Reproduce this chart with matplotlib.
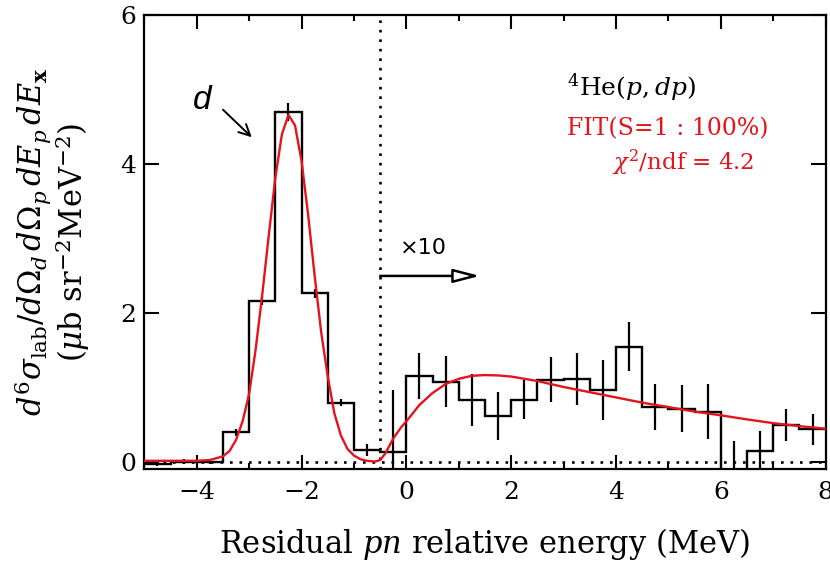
import matplotlib
matplotlib.use("Agg")
import matplotlib.pyplot as plt

plt.rcParams['font.family'] = 'DejaVu Serif'
plt.rcParams['mathtext.fontset'] = 'dejavuserif'

RED = '#e3141c'

# histogram bins (MeV), values and errors
bin_edges = [-5.0, -4.5, -4.0, -3.5, -3.0, -2.5, -2.0, -1.5, -1.0, -0.5, 0.0,
             0.5, 1.0, 1.5, 2.0, 2.5, 3.0, 3.5, 4.0, 4.5, 5.0, 5.5, 6.0, 6.5,
             7.0, 7.5, 8.0]
counts = [-0.02, 0.01, 0.01, 0.40, 2.17, 4.70, 2.27, 0.80, 0.16, 0.14, 1.16,
          1.08, 0.84, 0.62, 0.84, 1.11, 1.12, 0.97, 1.55, 0.74, 0.72, 0.68,
          -0.12, 0.145, 0.50, 0.44]
errors = [0.03, 0.03, 0.03, 0.05, 0.06, 0.12, 0.06, 0.05, 0.08, 0.83, 0.31,
          0.34, 0.35, 0.32, 0.26, 0.30, 0.35, 0.40, 0.33, 0.31, 0.31, 0.37,
          0.40, 0.27, 0.21, 0.21]
bin_centers = [(a + b) / 2 for a, b in zip(bin_edges[:-1], bin_edges[1:])]

# fitted curve (S=1), sampled from the red line
fit_x = [-5.0, -4.0, -3.75, -3.5, -3.375, -3.25, -3.125, -3.0, -2.875, -2.75,
         -2.625, -2.5, -2.375, -2.25, -2.125, -2.0, -1.875, -1.75, -1.625,
         -1.5, -1.375, -1.25, -1.125, -1.0, -0.875, -0.75, -0.6, -0.5, -0.4,
         -0.25, -0.1, 0.0, 0.25, 0.5, 0.75, 1.0, 1.25, 1.5, 1.75, 2.0, 2.5,
         3.0, 3.5, 4.0, 4.5, 5.0, 5.5, 6.0, 6.5, 7.0, 7.5, 8.0]
fit_y = [0.02, 0.02, 0.03, 0.08, 0.15, 0.30, 0.55, 0.92, 1.52, 2.25,
         3.05, 3.82, 4.40, 4.66, 4.52, 4.04, 3.32, 2.50, 1.74,
         1.15, 0.66, 0.36, 0.18, 0.09, 0.04, 0.02, 0.01, 0.03, 0.12,
         0.32, 0.47, 0.55, 0.77, 0.93, 1.05, 1.12, 1.16, 1.17, 1.165, 1.15, 1.09,
         1.01, 0.94, 0.87, 0.80, 0.74, 0.68, 0.63, 0.575, 0.525, 0.485, 0.45]

fig = plt.figure(figsize=(8.3, 5.62), dpi=100)
ax = fig.add_axes([0.1739, 0.1655, 0.8209, 0.8078])

# reference lines
ax.axhline(0, color='k', lw=1.9, ls=(0, (1, 2.6)), zorder=1)
ax.axvline(-0.5, color='k', lw=1.9, ls=(0, (1, 2.6)), zorder=1)

ax.stairs(counts, bin_edges, baseline=None, color='k', lw=1.7, zorder=2)
ax.errorbar(bin_centers, counts, yerr=errors, fmt='none', ecolor='k',
            elinewidth=1.6, capsize=0, zorder=2)
ax.plot(fit_x, fit_y, color=RED, lw=1.7, zorder=3)

ax.set_xlim(-5, 8)
ax.set_ylim(-0.09, 6)
ax.set_xticks([-4, -2, 0, 2, 4, 6, 8])
ax.set_xticks([-5, -3, -1, 1, 3, 5, 7], minor=True)
ax.set_yticks([0, 2, 4, 6])
ax.tick_params(which='both', direction='in', top=True, right=True,
               width=1.5, labelsize=18)
ax.tick_params(which='major', axis='x', length=10, pad=9)
ax.tick_params(which='minor', axis='x', length=4.3)
ax.tick_params(which='major', axis='y', length=11, pad=6)
for sp in ax.spines.values():
    sp.set_linewidth(1.6)

ax.set_xlabel(r'Residual $pn$ relative energy (MeV)', fontsize=22)
ax.xaxis.set_label_coords(0.5, -0.125)
ax.set_ylabel(r'$d^6\sigma_{\rm lab}/d\Omega_d\,d\Omega_p\,dE_p\,dE_{\mathbf{x}}$'
              '\n' r'($\mu$b sr$^{-2}$MeV$^{-2}$)', fontsize=22, linespacing=1.0)
ax.yaxis.label.set_va('center')
ax.yaxis.set_label_coords(-0.1355, 0.5)

# annotations
ax.text(3.06, 5.03, r'$^4$He($p,dp$)', fontsize=18, ha='left', va='center')
ax.text(3.06, 4.48, 'FIT(S=1 : 100%)', fontsize=17, color=RED,
        ha='left', va='center')
ax.text(3.92, 4.02, r'$\chi^2$/ndf = 4.2', fontsize=16.5, color=RED,
        ha='left', va='center')

ax.text(-3.89, 4.85, 'd', family='Liberation Sans', style='italic',
        fontsize=24, ha='center', va='center')
ax.annotate('', xy=(-2.95, 4.36), xytext=(-3.50, 4.73),
            arrowprops=dict(arrowstyle='->', lw=1.4, mutation_scale=20,
                            shrinkA=0, shrinkB=0))

ax.text(0.33, 2.87, '×10', family='DejaVu Sans', fontsize=16,
        ha='center', va='center')
ax.annotate('', xy=(1.40, 2.50), xytext=(-0.5, 2.50),
            arrowprops=dict(arrowstyle='-|>,head_length=1.15,head_width=0.3',
                            mutation_scale=14, lw=1.8, fc='white', ec='k',
                            shrinkA=0, shrinkB=0))

fig.savefig('out.png', dpi=100)
